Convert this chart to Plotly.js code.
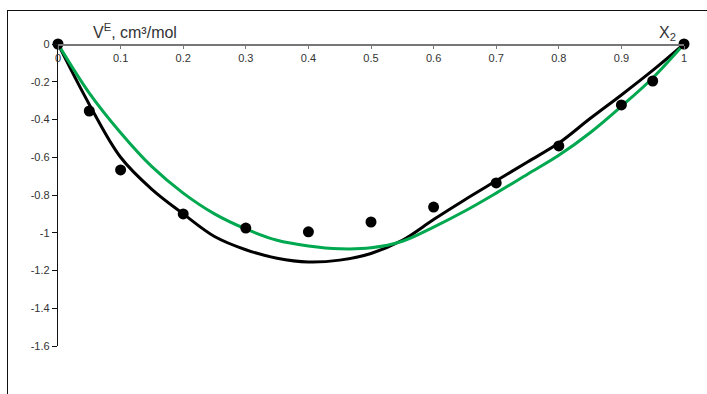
<!DOCTYPE html>
<html><head><meta charset="utf-8">
<script src="https://cdn.plot.ly/plotly-3.0.1.min.js"></script>
<style>
html,body{margin:0;padding:0;background:#fff;}
#wrap{position:relative;width:707px;height:394px;overflow:hidden;}
#chart{position:absolute;left:0;top:0;width:707px;height:394px;}
#frame{position:absolute;left:7px;top:10px;right:-5px;bottom:-5px;border-left:1.5px solid #111;border-top:1.5px solid #111;pointer-events:none;}
</style></head>
<body><div id="wrap"><div id="chart"></div><div id="frame"></div></div>
<script>
// Experimental points
const xExp = [0, 0.05, 0.1, 0.2, 0.3, 0.4, 0.5, 0.6, 0.7, 0.8, 0.9, 0.95, 1];
const vExp = [0, -0.355, -0.667, -0.90, -0.975, -0.995, -0.943, -0.864, -0.736, -0.54, -0.323, -0.196, 0];
// Curves
const xFit = [0, 0.05, 0.1, 0.15, 0.2, 0.25, 0.3, 0.35, 0.4, 0.45, 0.5, 0.55, 0.6, 0.65, 0.7, 0.75, 0.8, 0.85, 0.9, 0.95, 1];
const vBlack = [0, -0.32, -0.60, -0.77, -0.90, -1.02, -1.09, -1.135, -1.155, -1.145, -1.11, -1.04, -0.93, -0.825, -0.725, -0.625, -0.525, -0.395, -0.27, -0.14, 0];
const vGreen = [0, -0.26, -0.47, -0.65, -0.79, -0.90, -0.98, -1.04, -1.07, -1.085, -1.08, -1.045, -0.97, -0.885, -0.79, -0.69, -0.59, -0.47, -0.33, -0.18, 0];
const xTicks = [0, 0.1, 0.2, 0.3, 0.4, 0.5, 0.6, 0.7, 0.8, 0.9, 1];
const xTickText = ['0', '0.1', '0.2', '0.3', '0.4', '0.5', '0.6', '0.7', '0.8', '0.9', '1'];
const yTicks = [0, -0.2, -0.4, -0.6, -0.8, -1, -1.2, -1.4, -1.6];
const yTickText = ['0', '-0.2', '-0.4', '-0.6', '-0.8', '-1', '-1.2', '-1.4', '-1.6'];

const font = 'Liberation Sans, Arial, sans-serif';
const traces = [
  {x: xFit, y: vBlack, mode: 'lines', line: {color: '#000', width: 3, shape: 'spline', smoothing: 1}, cliponaxis: false, hoverinfo: 'skip'},
  {x: xFit, y: vGreen, mode: 'lines', line: {color: '#00a84f', width: 3, shape: 'spline', smoothing: 1}, cliponaxis: false, hoverinfo: 'skip'},
  {x: xExp, y: vExp, mode: 'markers', marker: {color: '#000', size: 11}, cliponaxis: false}
];
const layout = {
  width: 707, height: 394,
  margin: {l: 58, r: 23, t: 44, b: 48},
  paper_bgcolor: 'rgba(0,0,0,0)', plot_bgcolor: 'rgba(0,0,0,0)',
  showlegend: false,
  font: {family: font, size: 11, color: '#333'},
  xaxis: {
    range: [0, 1], anchor: 'free', position: 1, side: 'bottom',
    showgrid: false, zeroline: false,
    showline: true, linecolor: '#777', linewidth: 1.5,
    tickvals: xTicks, ticktext: xTickText, ticks: 'outside', ticklen: 3, tickcolor: '#777',
    tickfont: {family: font, size: 11, color: '#333'}
  },
  yaxis: {
    range: [-1.6, 0], showgrid: false, zeroline: false,
    showline: true, linecolor: '#111', linewidth: 1.2,
    tickvals: yTicks, ticktext: yTickText, ticks: 'outside', ticklen: 5, tickcolor: '#111',
    tickfont: {family: font, size: 11, color: '#333'}
  },
  annotations: [
    {xref: 'paper', yref: 'paper', x: 0.123, y: 1.0414, xanchor: 'center', yanchor: 'middle', text: 'V<sup>E</sup>, cm³/mol', showarrow: false, font: {family: font, size: 16, color: '#333'}},
    {xref: 'paper', yref: 'paper', x: 0.973, y: 1.0364, xanchor: 'center', yanchor: 'middle', text: 'X<sub>2</sub>', showarrow: false, font: {family: font, size: 16, color: '#333'}}
  ]
};
Plotly.newPlot('chart', traces, layout, {displayModeBar: false, staticPlot: true});
</script></body></html>
